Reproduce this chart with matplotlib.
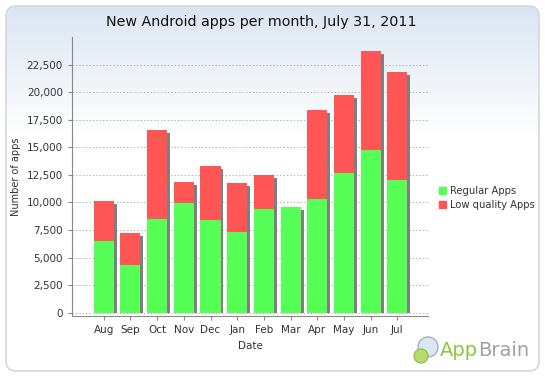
import matplotlib
matplotlib.use("Agg")
import matplotlib.pyplot as plt
import numpy as np
from matplotlib.patches import FancyBboxPatch, Patch, Circle
from matplotlib.ticker import FuncFormatter

months = ["Aug", "Sep", "Oct", "Nov", "Dec", "Jan", "Feb", "Mar", "Apr", "May", "Jun", "Jul"]
regular = [6500, 4300, 8500, 9950, 8400, 7300, 9400, 9560, 10300, 12640, 14780, 12000]
low_quality = [3650, 2900, 8070, 1900, 4900, 4450, 3090, 0, 8060, 7080, 8980, 9860]

GREEN = "#55ff55"
RED = "#ff5555"
SHADOW = "#7f7f7f"

W, H = 545, 377
fig = plt.figure(figsize=(W / 100, H / 100), dpi=100)

# background panel: rounded box with a light blue gradient at the top
bg = fig.add_axes([0, 0, 1, 1])
bg.set_xlim(0, W)
bg.set_ylim(H, 0)
bg.axis("off")
panel = FancyBboxPatch((6, 6), W - 12, H - 12, boxstyle="round,pad=0,rounding_size=10",
                       facecolor="none", edgecolor="#d4d8dc", linewidth=1.2, zorder=3)
bg.add_patch(panel)
grad = np.ones((H, 1, 3))
top = np.array([0.86, 0.90, 0.95])
for i in range(H):
    t = min(1.0, max(0.0, (i - 6) / 130.0))
    grad[i, 0] = top * (1 - t) + np.ones(3) * t
im = bg.imshow(grad, extent=(0, W, H, 0), aspect="auto", zorder=1)
im.set_clip_path(panel)

fig.text(261 / W, 1 - 22 / H, "New Android apps per month, July 31, 2011",
         ha="center", va="center", fontsize=10.3, color="#111111")

ax = fig.add_axes([72 / W, (H - 316) / H, (428 - 72) / W, (316 - 37) / H])
ax.patch.set_alpha(0)
x = np.arange(len(months))
tot = np.array(regular) + np.array(low_quality)
bw = 0.75
ax.bar(x + 0.11, tot - 280, width=bw, color=SHADOW, zorder=2)
ax.bar(x, regular, width=bw, color=GREEN, zorder=3)
ax.bar(x, low_quality, bottom=regular, width=bw, color=RED, zorder=3)

ax.set_xlim(-1.19, 12.15)
ax.set_ylim(-300, 25000)
ax.set_yticks(np.arange(0, 22501, 2500))
ax.yaxis.set_major_formatter(FuncFormatter(lambda v, p: f"{int(v):,}"))
ax.set_xticks(x)
ax.set_xticklabels(months)
ax.tick_params(axis="both", labelsize=7.5, colors="#888888", labelcolor="#333333",
               length=3, width=0.8)
ax.yaxis.grid(True, linestyle=(0, (1.5, 2)), color="#b4b4b4", linewidth=0.7, zorder=0)
for s in ["top", "right"]:
    ax.spines[s].set_visible(False)
for s in ["left", "bottom"]:
    ax.spines[s].set_color("#888888")
ax.set_xlabel("Date", fontsize=7.5, color="#333333", labelpad=4)
ax.set_ylabel("Number of apps", fontsize=7, color="#333333", labelpad=4)

fig.legend(handles=[Patch(color=GREEN, label="Regular Apps"),
                    Patch(color=RED, label="Low quality Apps")],
           loc="center left", bbox_to_anchor=(430 / W, 1 - 198 / H),
           frameon=False, fontsize=7.2, handlelength=0.7, handleheight=0.7,
           handletextpad=0.4, labelspacing=0.35, labelcolor="#333333")

# AppBrain logo
bg.add_patch(Circle((428, 347), 10, facecolor="#dce6f0", edgecolor="#9fb3c8", lw=1, zorder=4))
bg.add_patch(Circle((421, 356), 7, facecolor="#b7dc6a", edgecolor="#8fb84a", lw=0.8, zorder=5))
t_app = bg.text(440, 350, "App", fontsize=14, color="#8cc63f", va="center", ha="left", zorder=5)
bg.annotate("Brain", xy=(1, 0.5), xycoords=t_app, fontsize=14, color="#a0a0a0",
            va="center", ha="left", zorder=5)

fig.savefig("out.png", dpi=100)
